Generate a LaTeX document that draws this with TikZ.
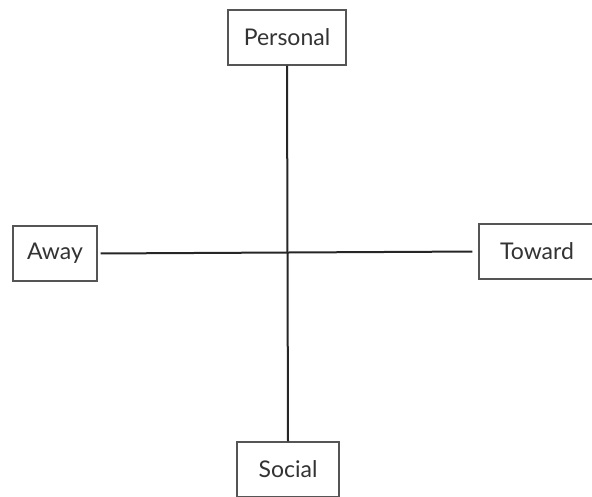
\documentclass[tikz,border=0pt]{standalone}
\usepackage{fontspec}
\setmainfont{Lato}
\definecolor{boxline}{HTML}{555555}
\definecolor{txt}{HTML}{333333}
\begin{document}
\begin{tikzpicture}[x=1pt,y=-1pt,
  lbl/.style={draw=boxline,line width=1.3pt,fill=white,inner sep=0pt,minimum height=55pt,
    text=txt,font=\fontsize{23}{26}\selectfont},
  axis/.style={draw=black!85,line width=2pt}]
\useasboundingbox (0,0) rectangle (592,496);
\clip (0,0) rectangle (592,496);
\node[lbl,minimum width=118pt] (P) at (287,37.5) {Personal};
\node[lbl,minimum width=84pt] (A) at (55,253.5) {Away};
\node[lbl,minimum width=116pt] (T) at (537,251.5) {Toward};
\node[lbl,minimum width=102pt] (S) at (288,469.5) {Social};
\draw[axis] (P.south) -- (S.north);
\draw[axis,shorten <=3pt,shorten >=6pt] (A.east) -- (T.west);
\end{tikzpicture}
\end{document}
